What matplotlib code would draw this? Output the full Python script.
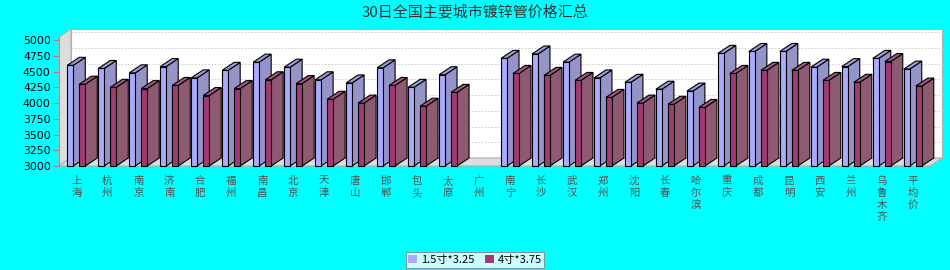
import numpy as np
import matplotlib
matplotlib.use("Agg")
import matplotlib.pyplot as plt
from matplotlib.patches import Polygon, Patch

plt.rcParams['font.family'] = ['Noto Sans CJK SC', 'DejaVu Sans']

title = "30日全国主要城市镀锌管价格汇总"
cities = ["上海", "杭州", "南京", "济南", "合肥", "福州", "南昌", "北京", "天津", "唐山",
          "邯郸", "包头", "太原", "广州", "南宁", "长沙", "武汉", "郑州", "沈阳", "长春",
          "哈尔滨", "重庆", "成都", "昆明", "西安", "兰州", "乌鲁木齐", "平均价"]
series_names = ["1.5寸*3.25", "4寸*3.75"]
price_15 = [4600, 4550, 4480, 4580, 4400, 4520, 4650, 4570, 4370, 4320,
            4560, 4250, 4450, np.nan, 4710, 4780, 4650, 4400, 4330, 4220,
            4190, 4790, 4820, 4820, 4570, 4580, 4710, 4540]
price_4 = [4300, 4250, 4230, 4280, 4120, 4230, 4370, 4310, 4060, 4000,
           4280, 3950, 4170, np.nan, 4470, 4440, 4360, 4090, 4000, 3980,
           3930, 4470, 4520, 4520, 4360, 4330, 4660, 4270]
yticks = list(range(3000, 5001, 250))

front_cols = ["#AAAAFF", "#A23A72"]
side_cols = ["#9494C8", "#8E5A72"]
top_cols = ["#9C9CD8", "#A0587E"]

W, H = 950, 270
fig = plt.figure(figsize=(W / 100, H / 100), dpi=100, facecolor="#00FFFF")
left_px, right_px, top_px, bot_px = 59, 930, 37, 166
ax = fig.add_axes([left_px / W, 1 - bot_px / H, (right_px - left_px) / W, (bot_px - top_px) / H])
ax.set_facecolor("none")

x0, x1 = -0.558, 27.557
y0, y1 = 3000, 5050
ax.set_xlim(x0, x1)
ax.set_ylim(y0, y1)

# pixel -> data scale, for the 3d depth offset
sx = (x1 - x0) / (right_px - left_px)
sy = (y1 - y0) / (bot_px - top_px)
dx, dy = 12 * sx, 8 * sy

# back wall, left wall, floor
ax.add_patch(Polygon([(x0 + dx, y0 + dy), (x1 + dx, y0 + dy), (x1 + dx, y1 + dy), (x0 + dx, y1 + dy)],
                     closed=True, facecolor="white", edgecolor="#B0B0B0", lw=0.8, clip_on=False, zorder=0))
for t in yticks:
    ax.plot([x0 + dx, x1 + dx], [t + dy, t + dy], color="#C8C8C8", lw=0.6, ls=(0, (2, 2)),
            clip_on=False, zorder=0.5)
ax.add_patch(Polygon([(x0, y0), (x0 + dx, y0 + dy), (x0 + dx, y1 + dy), (x0, y1)],
                     closed=True, facecolor="#DDDDDD", edgecolor="#B0B0B0", lw=0.8, clip_on=False, zorder=0.6))
ax.add_patch(Polygon([(x0, y0), (x1, y0), (x1 + dx, y0 + dy), (x0 + dx, y0 + dy)],
                     closed=True, facecolor="#DDDDDD", edgecolor="#B0B0B0", lw=0.8, clip_on=False, zorder=0.6))

bw = 6 * sx
offs = [-6 * sx, 6 * sx]
z = 1
for i in range(len(cities)):
    for s, vals in enumerate([price_15, price_4]):
        v = vals[i]
        if np.isnan(v):
            continue
        xl = i + offs[s] - bw / 2
        xr = xl + bw
        ax.add_patch(Polygon([(xr, y0), (xr + dx, y0 + dy), (xr + dx, v + dy), (xr, v)], closed=True,
                             facecolor=side_cols[s], edgecolor="black", lw=0.8, clip_on=False, zorder=z))
        ax.add_patch(Polygon([(xl, v), (xl + dx, v + dy), (xr + dx, v + dy), (xr, v)], closed=True,
                             facecolor=top_cols[s], edgecolor="black", lw=0.8, clip_on=False, zorder=z))
        ax.bar(i + offs[s], v - y0, bottom=y0, width=bw, color=front_cols[s], edgecolor="black",
               lw=0.8, zorder=z + 0.5, clip_on=False)
        z += 1

for sp in ["top", "right", "bottom"]:
    ax.spines[sp].set_visible(False)
ax.spines["left"].set_color("#999999")
ax.spines["left"].set_bounds(y0, y1)
ax.set_yticks(yticks)
ax.set_yticklabels([str(t) for t in yticks], fontsize=7.8, family="DejaVu Sans")
ax.tick_params(axis="y", length=4, width=0.8, color="#B08080", pad=2)
ax.set_xticks(range(len(cities)))
ax.set_xticklabels(["\n".join(c) for c in cities], fontsize=7.5, color="#505050", linespacing=1.25,
                   va="top")
ax.tick_params(axis="x", length=0, pad=7)

fig.text(0.5, 1 - 12 / H, title, ha="center", va="center", fontsize=10.8, color="#333333")

handles = [Patch(facecolor=front_cols[0], edgecolor="none"), Patch(facecolor=front_cols[1], edgecolor="none")]
leg = fig.legend(handles, series_names, loc="center", bbox_to_anchor=(475 / W, 1 - 260 / H), ncol=2,
                 fontsize=8, frameon=True, fancybox=False, handlelength=0.8, handleheight=0.8,
                 handletextpad=0.35, columnspacing=0.9, borderpad=0.25, borderaxespad=0)
leg.get_frame().set_edgecolor("#808080")
leg.get_frame().set_linewidth(0.8)

fig.savefig("out.png", dpi=100, facecolor=fig.get_facecolor())
